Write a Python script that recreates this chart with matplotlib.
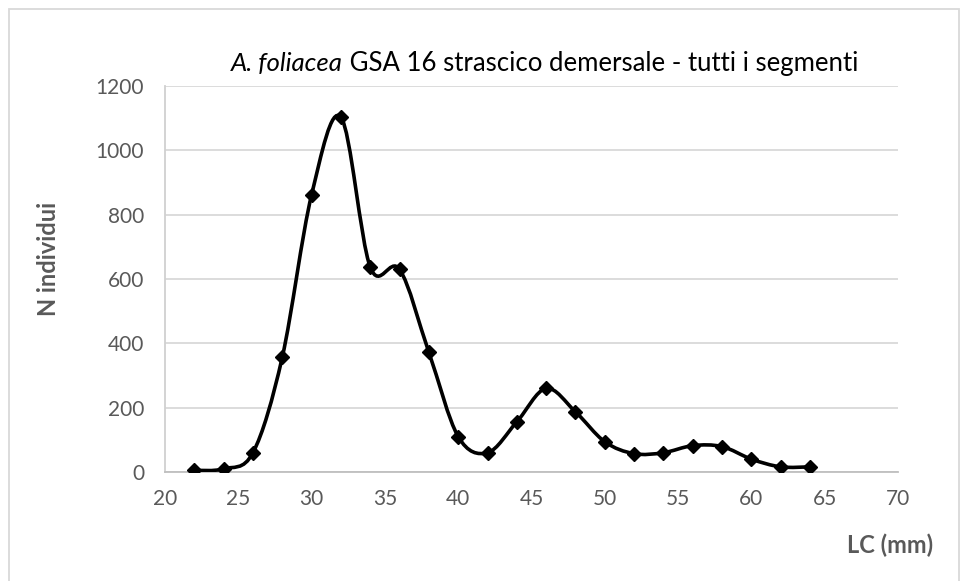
import matplotlib
matplotlib.use("Agg")
import matplotlib.pyplot as plt
import numpy as np
from matplotlib.path import Path
from matplotlib.patches import PathPatch, Rectangle

plt.rcParams["font.family"] = ["Lato", "DejaVu Sans"]

# data
lc_mm = [22, 24, 26, 28, 30, 32, 34, 36, 38, 40, 42,
         44, 46, 48, 50, 52, 54, 56, 58, 60, 62, 64]
n_individui = [5, 10, 60, 357, 862, 1103, 637, 630, 372, 110, 60,
               156, 260, 187, 94, 57, 60, 82, 79, 40, 16, 16]

TEXT_GRAY = "#595959"
GRID_GRAY = "#d9d9d9"


def smooth_path(xs, ys):
    # Bezier curve through the points, same idea as Excel's "smoothed line"
    pts = np.column_stack([xs, ys]).astype(float)
    ext = np.vstack([pts[0], pts, pts[-1]])
    verts = [tuple(pts[0])]
    codes = [Path.MOVETO]
    for i in range(1, len(ext) - 2):
        p0, p1, p2, p3 = ext[i - 1], ext[i], ext[i + 1], ext[i + 2]
        c1 = p1 + (p2 - p0) / 6.0
        c2 = p2 - (p3 - p1) / 6.0
        verts += [tuple(c1), tuple(c2), tuple(p2)]
        codes += [Path.CURVE4] * 3
    return Path(verts, codes)


fig = plt.figure(figsize=(9.6, 5.81), dpi=100)
ax = fig.add_axes([165 / 960, 109 / 581, 733 / 960, 386 / 581])

ax.add_patch(PathPatch(smooth_path(lc_mm, n_individui), facecolor="none",
                       edgecolor="black", linewidth=2.6, zorder=3))
ax.plot(lc_mm, n_individui, linestyle="none", marker="D", markersize=7.5,
        color="black", zorder=4)

ax.set_xlim(20, 70)
ax.set_ylim(0, 1200)
ax.set_xticks(range(20, 71, 5))
ax.set_yticks(range(0, 1201, 200))
ax.grid(axis="y", color=GRID_GRAY, linewidth=1.3)
ax.set_axisbelow(True)
for side in ["top", "right"]:
    ax.spines[side].set_visible(False)
ax.spines["left"].set_color("#d0d0d0")
ax.spines["bottom"].set_color("#bfbfbf")
ax.spines["left"].set_linewidth(1.3)
ax.spines["bottom"].set_linewidth(1.3)
ax.tick_params(length=0, labelsize=15, labelcolor=TEXT_GRAY)
ax.tick_params(axis="y", pad=15)
ax.tick_params(axis="x", pad=12)

# title: italic species name followed by plain text, centred as one line
title_y = 1 - 63 / 581
t1 = fig.text(0, title_y, "A. foliacea", style="italic", fontsize=18.5,
              color="black", ha="left", va="center")
t2 = fig.text(0, title_y, " GSA 16 strascico demersale - tutti i segmenti",
              fontsize=18.5, color="black", ha="left", va="center")
renderer = fig.canvas.get_renderer()
w1 = t1.get_window_extent(renderer).width / 960
w2 = t2.get_window_extent(renderer).width / 960
x0 = (232 + 857) / 2 / 960 - (w1 + w2) / 2
t1.set_x(x0)
t2.set_x(x0 + w1)

fig.text(48 / 960, 1 - 259 / 581, "N individui", rotation=90, fontsize=17,
         fontweight="bold", color=TEXT_GRAY, ha="center", va="center")
fig.text(933 / 960, 1 - 545 / 581, "LC (mm)", fontsize=17,
         fontweight="bold", color=TEXT_GRAY, ha="right", va="center")

# chart area border
fig.patches.append(Rectangle((8.5 / 960, -0.05), (959 - 8.5) / 960, 1.05 - 9 / 581,
                             transform=fig.transFigure, fill=False,
                             edgecolor="#d9d9d9", linewidth=1.3))

fig.savefig("out.png", dpi=100)
